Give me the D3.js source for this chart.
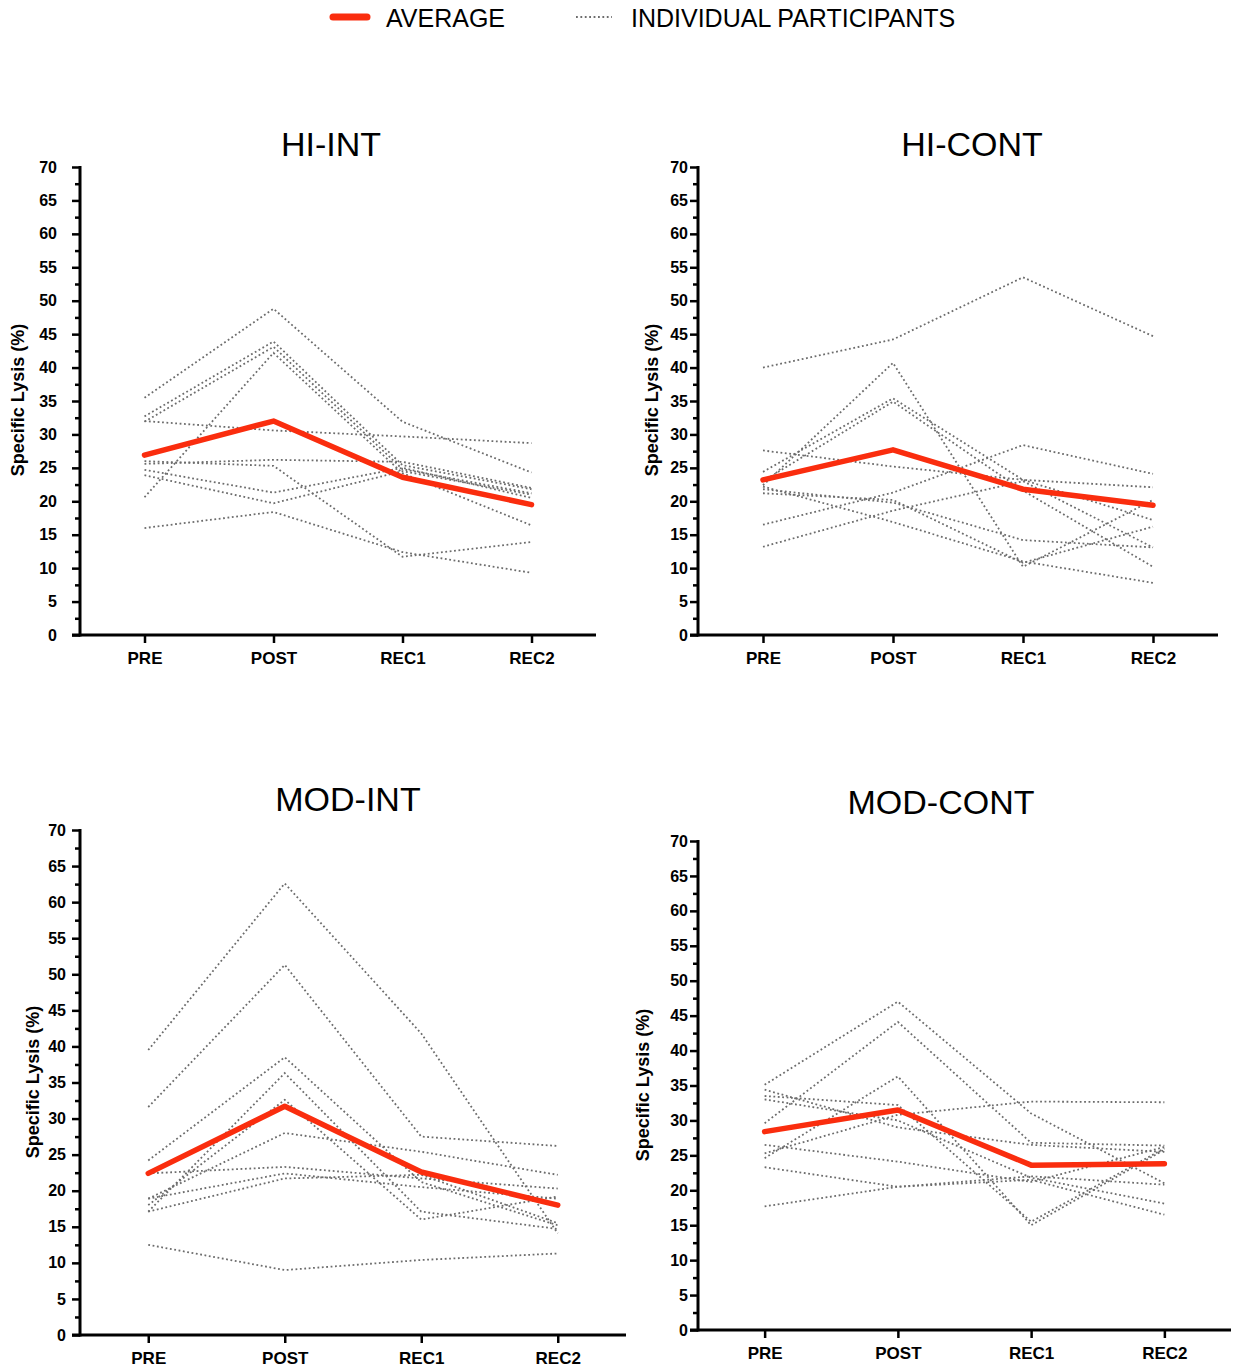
<!DOCTYPE html>
<html>
<head>
<meta charset="utf-8">
<script src="https://cdn.jsdelivr.net/npm/d3@7"></script>
<style>
  body { margin: 0; background: #fff; }
  svg { display: block; }
  text { font-family: "Liberation Sans", Arial, Helvetica, sans-serif; }
</style>
</head>
<body>
<svg id="chart" width="1241" height="1368"></svg>
<script>
// ---- data ----
const timepoints = ["PRE", "POST", "REC1", "REC2"];
const yTickValues = [0, 5, 10, 15, 20, 25, 30, 35, 40, 45, 50, 55, 60, 65, 70];
const yLabel = "Specific Lysis (%)";
const legendLabels = ["AVERAGE", "INDIVIDUAL PARTICIPANTS"];
const groupNames = ["HI-INT", "HI-CONT", "MOD-INT", "MOD-CONT"];

const hiIntAverage = [26.9, 32.0, 23.6, 19.5];
const hiIntParticipants = [
  [35.5, 48.8, 31.9, 24.3],
  [32.7, 43.9, 25.4, 21.8],
  [31.9, 43.1, 24.8, 21.2],
  [20.6, 42.2, 24.2, 16.4],
  [32.0, 30.6, 29.7, 28.7],
  [25.6, 26.2, 25.9, 22.0],
  [24.7, 21.3, 25.0, 20.5],
  [23.9, 19.7, 24.5, 21.0],
  [16.0, 18.4, 12.4, 9.3],
  [26.0, 25.3, 11.7, 13.9]
];

const hiContAverage = [23.2, 27.7, 21.8, 19.4];
const hiContParticipants = [
  [40.0, 44.2, 53.5, 44.7],
  [22.4, 40.7, 10.2, 20.2],
  [24.4, 35.4, 23.2, 17.2],
  [23.0, 34.9, 21.6, 10.2],
  [27.6, 25.2, 23.2, 22.1],
  [21.2, 20.2, 10.8, 16.2],
  [16.5, 21.3, 28.4, 24.1],
  [13.2, 18.6, 23.0, 13.1],
  [22.2, 16.9, 11.0, 7.8],
  [21.8, 19.8, 14.2, 13.1]
];

const modIntAverage = [22.4, 31.7, 22.6, 18.0];
const modIntParticipants = [
  [39.5, 62.6, 41.8, 14.1],
  [31.6, 51.3, 27.5, 26.2],
  [24.2, 38.5, 21.2, 15.2],
  [17.1, 36.3, 17.1, 14.7],
  [18.0, 32.6, 16.0, 19.2],
  [18.9, 28.0, 25.4, 22.2],
  [22.4, 23.3, 21.7, 20.3],
  [18.9, 22.4, 20.5, 18.9],
  [17.1, 21.7, 22.2, 15.5],
  [12.5, 9.0, 10.4, 11.3]
];

const modContAverage = [28.4, 31.5, 23.6, 23.8];
const modContParticipants = [
  [35.1, 47.0, 31.0, 21.0],
  [29.6, 44.1, 26.8, 26.4],
  [24.6, 36.3, 15.0, 25.8],
  [25.3, 30.8, 32.7, 32.6],
  [34.4, 29.0, 26.5, 25.5],
  [33.0, 30.0, 21.8, 18.1],
  [26.5, 24.1, 21.2, 26.2],
  [23.3, 20.5, 22.0, 20.8],
  [17.7, 20.5, 21.5, 16.5],
  [33.5, 32.2, 15.5, 26.0]
];

const averages = [hiIntAverage, hiContAverage, modIntAverage, modContAverage];
const participants = [hiIntParticipants, hiContParticipants, modIntParticipants, modContParticipants];

// ---- layout of the four panels ----
const panels = [
  { left: 80,  right: 596,  bottom: 635,  top: 167, titleX: 331, titleY: 156, labelX: 18,  labelY: 400,  pad: 15 },
  { left: 698, right: 1218, bottom: 635,  top: 167, titleX: 972, titleY: 156, labelX: 652, labelY: 400,  pad: 2 },
  { left: 80,  right: 626,  bottom: 1335, top: 830, titleX: 348, titleY: 811, labelX: 33,  labelY: 1082, pad: 6 },
  { left: 698, right: 1231, bottom: 1330, top: 841, titleX: 941, titleY: 814, labelX: 643, labelY: 1085, pad: 2 }
];

const RED = "#fa2d0e";
const GREY = "#6c6c6c";
const DOTS = "1.8 2.6";
const svg = d3.select("#chart");

// ---- legend ----
const legend = svg.append("g");
legend.append("line")
  .attr("x1", 333).attr("x2", 367).attr("y1", 17).attr("y2", 17)
  .attr("stroke", RED).attr("stroke-width", 7).attr("stroke-linecap", "round");
legend.append("text").attr("x", 386).attr("y", 27)
  .attr("font-size", 25).attr("fill", "#000").text(legendLabels[0]);
legend.append("line")
  .attr("x1", 576).attr("x2", 612).attr("y1", 17).attr("y2", 17)
  .attr("stroke", GREY).attr("stroke-width", 1.8).attr("stroke-dasharray", DOTS);
legend.append("text").attr("x", 631).attr("y", 27)
  .attr("font-size", 25).attr("fill", "#000").text(legendLabels[1]);

// ---- panels ----
panels.forEach((p, i) => {
  const g = svg.append("g");

  const x = d3.scalePoint().domain(timepoints).range([p.left, p.right]).padding(0.5);
  const y = d3.scaleLinear().domain([0, 70]).range([p.bottom, p.top]);

  // title
  g.append("text")
    .attr("x", p.titleX).attr("y", p.titleY)
    .attr("text-anchor", "middle").attr("font-size", 34).attr("fill", "#000")
    .text(groupNames[i]);

  // y axis: major ticks with labels
  const yAxis = g.append("g")
    .attr("transform", `translate(${p.left},0)`)
    .call(d3.axisLeft(y).tickValues(yTickValues).tickSize(8).tickPadding(p.pad));
  yAxis.select(".domain").remove();
  yAxis.selectAll(".tick line").attr("stroke", "#000").attr("stroke-width", 2.5);
  yAxis.selectAll(".tick text")
    .attr("font-size", 16).attr("font-weight", "bold").attr("fill", "#000")
    .attr("font-family", "'Liberation Sans', Arial, sans-serif");

  // y axis: minor ticks
  const yMinor = g.append("g")
    .attr("transform", `translate(${p.left},0)`)
    .call(d3.axisLeft(y).tickValues(d3.range(2.5, 70, 5)).tickSize(5).tickFormat(""));
  yMinor.select(".domain").remove();
  yMinor.selectAll(".tick line").attr("stroke", "#000").attr("stroke-width", 2.5);

  // x axis
  const xAxis = g.append("g")
    .attr("transform", `translate(0,${p.bottom})`)
    .call(d3.axisBottom(x).tickSize(8).tickPadding(9));
  xAxis.select(".domain").remove();
  xAxis.selectAll(".tick line").attr("stroke", "#000").attr("stroke-width", 2.5);
  xAxis.selectAll(".tick text")
    .attr("font-size", 17).attr("font-weight", "bold").attr("fill", "#000")
    .attr("font-family", "'Liberation Sans', Arial, sans-serif");

  // axis lines
  g.append("line")
    .attr("x1", p.left).attr("x2", p.left)
    .attr("y1", y(70) - 1).attr("y2", y(0) + 1.5)
    .attr("stroke", "#000").attr("stroke-width", 3);
  g.append("line")
    .attr("x1", p.left - 8).attr("x2", p.right)
    .attr("y1", y(0)).attr("y2", y(0))
    .attr("stroke", "#000").attr("stroke-width", 3);

  // y axis title
  g.append("text")
    .attr("transform", `translate(${p.labelX},${p.labelY}) rotate(-90)`)
    .attr("text-anchor", "middle").attr("dominant-baseline", "central")
    .attr("font-size", 18).attr("font-weight", "bold").attr("fill", "#000")
    .text(yLabel);

  const line = d3.line()
    .x((d, j) => x(timepoints[j]))
    .y(d => y(d));

  // individual participants
  g.append("g").selectAll("path")
    .data(participants[i])
    .join("path")
    .attr("d", line)
    .attr("fill", "none")
    .attr("stroke", GREY)
    .attr("stroke-width", 1.8)
    .attr("stroke-dasharray", DOTS);

  // group average
  g.append("path")
    .datum(averages[i])
    .attr("d", line)
    .attr("fill", "none")
    .attr("stroke", RED)
    .attr("stroke-width", 5.5)
    .attr("stroke-linecap", "round")
    .attr("stroke-linejoin", "round");
});
</script>
</body>
</html>
